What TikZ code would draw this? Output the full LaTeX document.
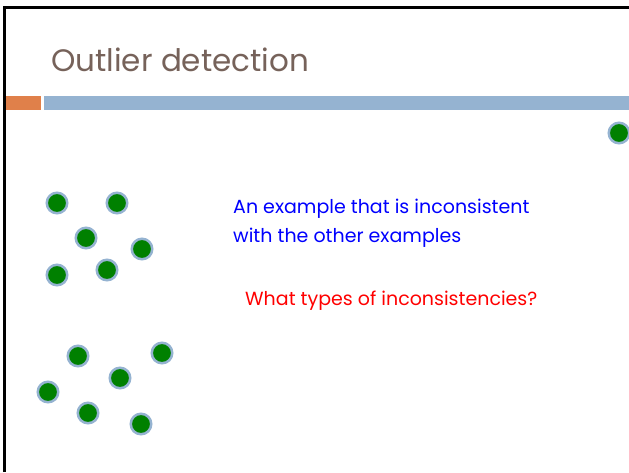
\documentclass[tikz,border=0pt]{standalone}
\usepackage{fontspec}
\setmainfont{Poppins}
\definecolor{titlebrown}{HTML}{76625A}
\definecolor{barblue}{HTML}{95B3D1}
\definecolor{barorange}{HTML}{E0804A}
\definecolor{dotgreen}{HTML}{008000}
\tikzset{
  dot/.style={circle,fill=dotgreen,draw=barblue,line width=2.5pt,minimum size=20.5pt,inner sep=0pt},
  remark/.style={anchor=base west,inner sep=0pt,font=\fontsize{19}{22}\selectfont}
}
\begin{document}
\begin{tikzpicture}[x=1pt,y=-1pt]
   \useasboundingbox (0,0) rectangle (629,472);
   \clip (0,0) rectangle (629,472);
   % 枠
   \draw[line width=3pt] (4.5,472) -- (4.5,7.5) -- (629,7.5);
   % タイトル
   \node (title) [anchor=base west,inner sep=0pt,text=titlebrown,font=\fontsize{31}{36}\selectfont] at (51,71) {Outlier detection};
   \fill[barorange] (6,96) rectangle (41,110);
   \fill[barblue] (44,96) rectangle (629,110);

   % 外れ値
   \node (out) [dot] at (619,133) {};

   % 上の群
   \node (a1) [dot] at (57,203) {};
   \node (a2) [dot] at (117,203) {};
   \node (a3) [dot] at (86,238) {};
   \node (a4) [dot] at (142,249) {};
   \node (a5) [dot] at (57,275) {};
   \node (a6) [dot] at (107,270) {};

   % 下の群
   \node (b1) [dot] at (78,356) {};
   \node (b2) [dot] at (162,353) {};
   \node (b3) [dot] at (120,378) {};
   \node (b4) [dot] at (48,392) {};
   \node (b5) [dot] at (88,413) {};
   \node (b6) [dot] at (141,424) {};

   \node (def1) [remark,text=blue] at (233,213) {An example that is inconsistent};
   \node (def2) [remark,text=blue] at (233,242) {with the other examples};
   \node (ask) [remark,text=red] at (245,305) {What types of inconsistencies?};
\end{tikzpicture}
\end{document}
